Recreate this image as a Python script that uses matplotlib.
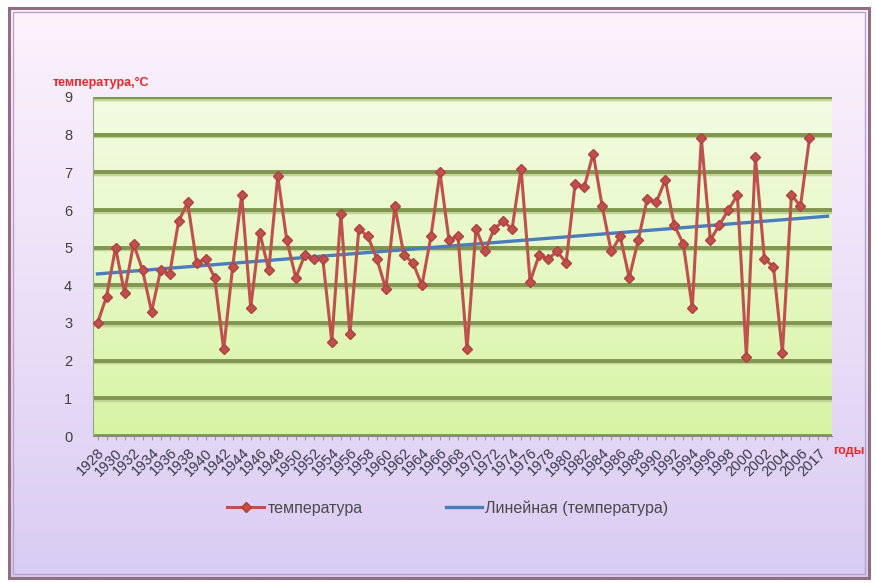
import numpy as np
import matplotlib
matplotlib.use("Agg")
import matplotlib.pyplot as plt
from matplotlib.patches import Rectangle
from matplotlib.colors import LinearSegmentedColormap
from matplotlib.lines import Line2D

# ---------------- data ----------------
years = list(range(1928, 2008))
temperature = [
    3.0, 3.7, 5.0, 3.8, 5.1, 4.4, 3.3, 4.4, 4.3, 5.7,
    6.2, 4.6, 4.7, 4.2, 2.3, 4.5, 6.4, 3.4, 5.4, 4.4,
    6.9, 5.2, 4.2, 4.8, 4.7, 4.7, 2.5, 5.9, 2.7, 5.5,
    5.3, 4.7, 3.9, 6.1, 4.8, 4.6, 4.0, 5.3, 7.0, 5.2,
    5.3, 2.3, 5.5, 4.9, 5.5, 5.7, 5.5, 7.1, 4.1, 4.8,
    4.7, 4.9, 4.6, 6.7, 6.6, 7.5, 6.1, 4.9, 5.3, 4.2,
    5.2, 6.3, 6.2, 6.8, 5.6, 5.1, 3.4, 7.9, 5.2, 5.6,
    6.0, 6.4, 2.1, 7.4, 4.7, 4.5, 2.2, 6.4, 6.1, 7.9,
]
extra_categories = ["2017", ""]           # empty categories at the end of the axis
categories = [str(y) for y in years] + extra_categories
tick_labels = [c if i % 2 == 0 else "" for i, c in enumerate(categories)]
y_ticks = list(range(0, 10))

series_name = "температура"
trend_name = "Линейная (температура)"
y_title = "температура,°C"
x_title = "годы"

# ---------------- figure ----------------
W, H = 876, 583
fig = plt.figure(figsize=(W / 100, H / 100), dpi=100)
fig.patch.set_facecolor("white")

# background axes in pixel coordinates
bg = fig.add_axes([0, 0, 1, 1])
bg.set_xlim(0, W)
bg.set_ylim(H, 0)
bg.axis("off")
bg.set_zorder(-10)

frame_cmap = LinearSegmentedColormap.from_list("fr", ["#fdf2fc", "#ece0f8", "#d9ccf3"])
grad = np.linspace(0, 1, 256).reshape(-1, 1)
bg.imshow(grad, cmap=frame_cmap, extent=[10, 868, 577, 9], aspect="auto", zorder=0)
bg.add_patch(Rectangle((9, 8), 860, 570, fill=False, edgecolor="#8f6f80", lw=2.2, zorder=2))
bg.add_patch(Rectangle((13, 12), 852, 562, fill=False, edgecolor="#b7a3c9", lw=1.0, zorder=2))

# plot area
L, R, T, B = 93, 832, 97, 436
ax = fig.add_axes([L / W, 1 - B / H, (R - L) / W, (B - T) / H])
ax.set_facecolor("none")
n_cat = len(categories)
ax.set_xlim(-0.5, n_cat - 0.5)
ax.set_ylim(0, 9)

plot_cmap = LinearSegmentedColormap.from_list("pl", ["#f3fbe3", "#e6f8c4", "#d7f4a5"])
ax.imshow(grad, cmap=plot_cmap, extent=[-0.5, n_cat - 0.5, 0, 9], aspect="auto", zorder=0)

# gridlines with a soft shadow
for yv in y_ticks:
    ax.axhline(yv - 0.04, color="#c0d496", lw=3.2, zorder=1)
    ax.axhline(yv, color="#7f9550", lw=2.8, zorder=1.1)

for s in ax.spines.values():
    s.set_visible(False)
ax.spines["left"].set_visible(True)
ax.spines["left"].set_color("#9aa88a")
ax.spines["bottom"].set_visible(True)
ax.spines["bottom"].set_color("#8a8a8a")

x = np.arange(len(years))
ax.plot(x, temperature, color="#c0504d", lw=2.2, marker="D", ms=5,
        mec="#b0403d", mfc="#c0504d", zorder=4)

# linear trend (least squares on the series), extended over all categories
coef = np.polyfit(x, temperature, 1)
xt = np.array([0, n_cat - 1])
ax.plot(xt, np.polyval(coef, xt), color="#4a7ebb", lw=2.4, zorder=3)

ax.set_yticks(y_ticks)
ax.set_yticklabels([str(v) for v in y_ticks], fontsize=10.5, color="#404040",
                   family="Liberation Sans")
ax.tick_params(axis="y", length=0, pad=15)
ax.set_xticks(np.arange(n_cat))
ax.set_xticklabels(tick_labels, rotation=45, ha="right", va="top",
                   rotation_mode="anchor", fontsize=10.5, color="#3a3a48",
                   family="Liberation Sans")
ax.tick_params(axis="x", length=3, color="#999999", pad=4)

fig.text(53 / W, 1 - 83 / H, y_title, color="#e8282a", fontsize=9,
         fontweight="bold", family="Liberation Sans", ha="left", va="center")
fig.text(833 / W, 1 - 451 / H, x_title, color="#e8282a", fontsize=9,
         fontweight="bold", family="Liberation Sans", ha="left", va="center")

handles = [
    Line2D([], [], color="#c0504d", lw=2.2, marker="D", ms=5, mfc="#c0504d", mec="#b0403d"),
    Line2D([], [], color="#4a7ebb", lw=2.4),
]
leg = fig.legend(handles, [series_name, trend_name], loc="center",
                 bbox_to_anchor=(448 / W, 1 - 508 / H), ncol=2, frameon=False,
                 handlelength=2.3, handletextpad=0.2, columnspacing=5.2,
                 prop={"family": "Liberation Sans", "size": 11.5})
for t in leg.get_texts():
    t.set_color("#4a4a4a")

fig.savefig("out.png", dpi=100)
